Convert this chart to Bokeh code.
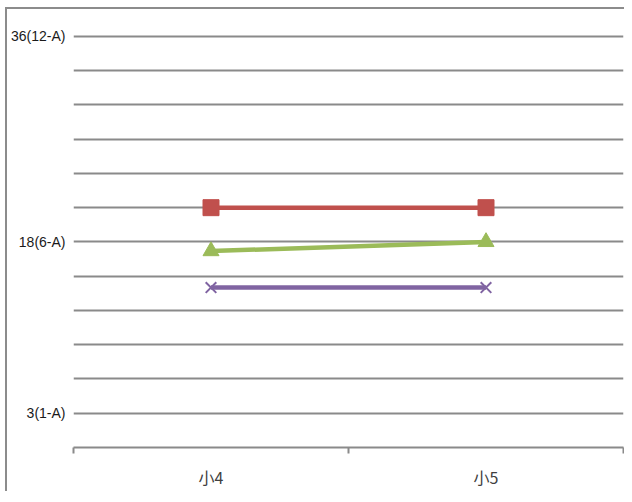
from bokeh.plotting import figure
from bokeh.models import FixedTicker, Range1d
from bokeh.embed import file_html
from bokeh.resources import INLINE

categories = ["小4", "小5"]
red_vals = [21, 21]
green_vals = [17.2, 18]
purple_vals = [14, 14]
y_ticks = [3, 6, 9, 12, 15, 18, 21, 24, 27, 30, 33, 36]
y_labels = {3: "3(1-A)", 18: "18(6-A)", 36: "36(12-A)"}

xs = [i + 0.5 for i in range(len(categories))]
bounds = [float(i) for i in range(len(categories) + 1)]

p = figure(frame_width=550, frame_height=414, output_backend="svg", toolbar_location=None,
           x_range=Range1d(0, len(categories)), y_range=Range1d(0, 36.25),
           min_border_left=66, min_border_right=1, min_border_top=24, min_border_bottom=40)
p.styles = {"border-top": "2px solid #8c8c8c", "border-left": "2px solid #8c8c8c",
            "margin-left": "5px", "margin-top": "7px"}
p.outline_line_color = None
p.background_fill_color = "white"

p.xgrid.visible = False
p.ygrid.ticker = FixedTicker(ticks=y_ticks)
p.ygrid.grid_line_color = "#8a8a8a"
p.ygrid.grid_line_width = 2

p.yaxis.ticker = FixedTicker(ticks=y_ticks)
p.yaxis.major_label_overrides = {t: y_labels.get(t, "") for t in y_ticks}
p.yaxis.axis_line_color = None
p.yaxis.major_tick_line_color = None
p.yaxis.minor_tick_line_color = None
p.yaxis.major_label_text_font = "Liberation Sans"
p.yaxis.major_label_text_font_size = "14px"
p.yaxis.major_label_text_color = "#1a1a1a"
p.yaxis.major_label_standoff = 2

p.xaxis.ticker = FixedTicker(ticks=xs, minor_ticks=bounds)
p.xaxis.major_label_overrides = {x: c for x, c in zip(xs, categories)}
p.xaxis.axis_line_color = "#8a8a8a"
p.xaxis.axis_line_width = 2
p.xaxis.major_tick_line_color = None
p.xaxis.minor_tick_line_color = "#8a8a8a"
p.xaxis.minor_tick_line_width = 2
p.xaxis.minor_tick_out = 6
p.xaxis.minor_tick_in = 0
p.xaxis.major_label_text_font = "Noto Sans CJK SC"
p.xaxis.major_label_text_font_size = "16px"
p.xaxis.major_label_text_color = "#404040"
p.xaxis.major_label_standoff = 11

p.line(xs, red_vals, line_color="#C0504D", line_width=4.5)
p.scatter(xs, red_vals, marker="square", size=16, fill_color="#C0504D", line_color="#C0504D")
p.line(xs, green_vals, line_color="#9BBB59", line_width=4.5)
p.scatter(xs, green_vals, marker="triangle", size=16, fill_color="#9BBB59", line_color="#9BBB59")
p.line(xs, purple_vals, line_color="#8064A2", line_width=4.5)
p.scatter(xs, purple_vals, marker="x", size=15, line_color="#8064A2", line_width=2)

open("out.html", "w").write(file_html(p, INLINE))
